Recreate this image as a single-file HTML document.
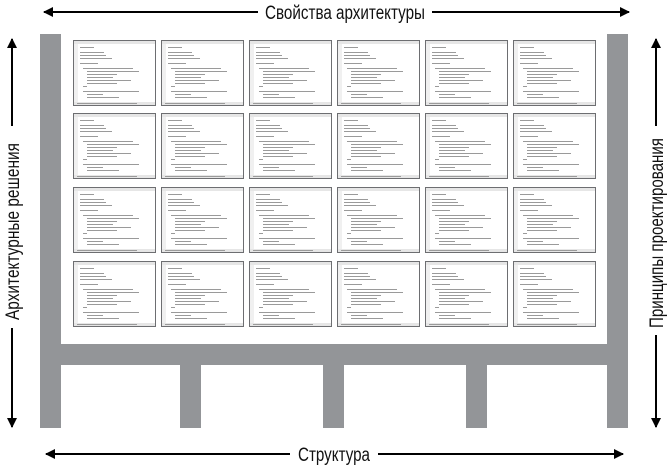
<!DOCTYPE html>
<html><head><meta charset="utf-8"><style>
html,body{margin:0;padding:0;background:#fff;}
svg{display:block;}
text{font-family:"Liberation Sans Narrow","Liberation Sans",sans-serif;fill:#111;}
</style></head><body>
<svg width="670" height="467" viewBox="0 0 670 467" xmlns="http://www.w3.org/2000/svg">
<defs>
<g id="card">
<rect x="0.5" y="0.5" width="82" height="65" fill="#fff" stroke="#6d6e71" stroke-width="1"/>
<rect x="1" y="1" width="81" height="3" fill="#e6e6e6"/>
<rect x="1" y="62" width="81" height="3" fill="#e6e6e6"/>
<rect x="1" y="4" width="4" height="58" fill="#f0f0f0"/>
<g fill="#9a9a9a">
<rect x="7" y="7" width="14" height="1"/>
<rect x="7" y="12" width="24" height="1"/>
<rect x="7" y="15" width="26" height="1"/>
<rect x="7" y="18" width="32" height="1"/>
<rect x="7" y="23" width="18" height="1"/>
<rect x="10" y="28" width="50" height="1"/>
<rect x="14" y="31" width="52" height="1"/>
<rect x="14" y="34" width="30" height="1"/>
<rect x="14" y="37" width="26" height="1"/>
<rect x="14" y="40" width="44" height="1"/>
<rect x="14" y="43" width="30" height="1"/>
<rect x="10" y="46" width="4" height="1"/>
<rect x="10" y="51" width="56" height="1"/>
<rect x="14" y="54" width="16" height="1"/>
<rect x="14" y="57" width="32" height="1"/>
<rect x="4" y="63" width="60" height="1"/>
</g>
</g>
<marker id="ah" markerWidth="10" markerHeight="10" refX="9" refY="5" orient="auto" markerUnits="userSpaceOnUse">
<path d="M0,0 L10,5 L0,10 Z" fill="#000"/>
</marker>
</defs>

<!-- structure -->
<g fill="#939598">
<rect x="40" y="34" width="21" height="394"/>
<rect x="607" y="34" width="21" height="394"/>
<rect x="40" y="344" width="588" height="21"/>
<rect x="180" y="344" width="21" height="84"/>
<rect x="323" y="344" width="21" height="84"/>
<rect x="466" y="344" width="21" height="84"/>
</g>

<!-- cards -->
<g>
<use href="#card" x="73" y="40"/><use href="#card" x="161" y="40"/><use href="#card" x="249" y="40"/><use href="#card" x="337" y="40"/><use href="#card" x="425" y="40"/><use href="#card" x="513" y="40"/>
<use href="#card" x="73" y="113"/><use href="#card" x="161" y="113"/><use href="#card" x="249" y="113"/><use href="#card" x="337" y="113"/><use href="#card" x="425" y="113"/><use href="#card" x="513" y="113"/>
<use href="#card" x="73" y="187"/><use href="#card" x="161" y="187"/><use href="#card" x="249" y="187"/><use href="#card" x="337" y="187"/><use href="#card" x="425" y="187"/><use href="#card" x="513" y="187"/>
<use href="#card" x="73" y="261"/><use href="#card" x="161" y="261"/><use href="#card" x="249" y="261"/><use href="#card" x="337" y="261"/><use href="#card" x="425" y="261"/><use href="#card" x="513" y="261"/>
</g>

<!-- arrows -->
<g stroke="#000" stroke-width="2">
<line x1="258" y1="12" x2="44" y2="12" marker-end="url(#ah)"/>
<line x1="432" y1="12" x2="629" y2="12" marker-end="url(#ah)"/>
<line x1="290" y1="454" x2="46" y2="454" marker-end="url(#ah)"/>
<line x1="378" y1="454" x2="623" y2="454" marker-end="url(#ah)"/>
<line x1="12" y1="126" x2="12" y2="39" marker-end="url(#ah)"/>
<line x1="12" y1="328" x2="12" y2="427" marker-end="url(#ah)"/>
<line x1="656" y1="126" x2="656" y2="39" marker-end="url(#ah)"/>
<line x1="656" y1="335" x2="656" y2="427" marker-end="url(#ah)"/>
</g>

<text x="265" y="19" font-size="19" textLength="160" lengthAdjust="spacingAndGlyphs">Свойства архитектуры</text>
<text x="298" y="461" font-size="19" textLength="72" lengthAdjust="spacingAndGlyphs">Структура</text>
<text transform="translate(19,320) rotate(-90)" x="0" y="0" font-size="19" textLength="177" lengthAdjust="spacingAndGlyphs">Архитектурные решения</text>
<text transform="translate(663,328) rotate(-90)" x="0" y="0" font-size="19" textLength="190" lengthAdjust="spacingAndGlyphs">Принципы проектирования</text>
</svg>
</body></html>
